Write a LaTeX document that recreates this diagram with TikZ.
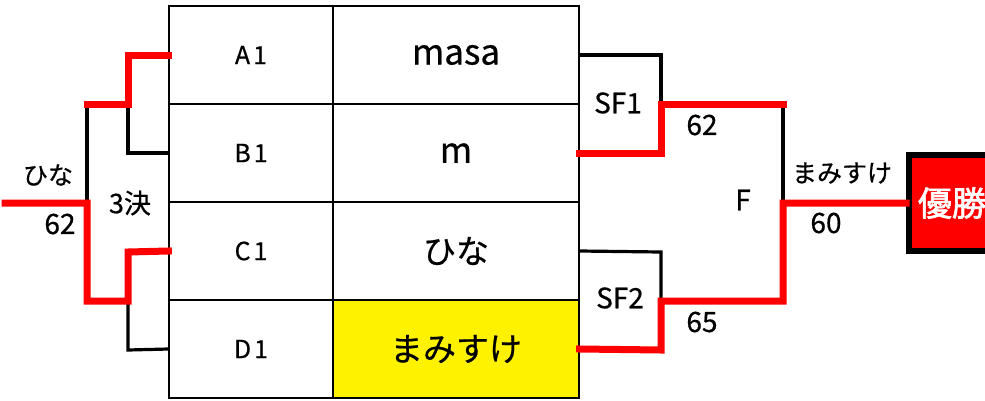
\documentclass[tikz,border=0pt]{standalone}
\usepackage{fontspec}
\setmainfont{Noto Sans CJK JP}[FakeBold=0.6]
\newfontfamily\jpbold{Noto Sans CJK JP}[FakeBold=2]
\newfontfamily\idfont{Noto Sans CJK JP}[FakeBold=0.6, LetterSpace=12]
\tikzset{
  cell/.style={draw=black, line width=1.4pt, minimum height=98pt, inner sep=0pt, anchor=center},
  idcell/.style={cell, minimum width=164pt, font=\idfont\fontsize{25}{27}\selectfont},
  namecell/.style={cell, minimum width=246pt, font=\fontsize{33}{35}\selectfont},
  lbl/.style={inner sep=0pt, font=\fontsize{25}{27}\selectfont},
  nlbl/.style={inner sep=0pt, font=\fontsize{28}{30}\selectfont},
  win/.style={line width=7pt, red, line cap=rect, line join=miter},
  lose/.style={line width=3.2pt, black, line join=miter},
}
\begin{document}
\begin{tikzpicture}[x=1pt, y=-1pt]
\useasboundingbox (0,0) rectangle (985,400);
\clip (0,0) rectangle (985,400);
% table
\node[idcell] (A1) at (251,55) {A1};
\node[idcell] (B1) at (251,153) {B1};
\node[idcell] (C1) at (251,251) {C1};
\node[idcell] (D1) at (251,349) {D1};
\node[namecell, font=\fontsize{35}{37}\selectfont] (M1) at (456,55) {masa};
\node[namecell, font=\fontsize{35}{37}\selectfont] (M2) at (456,153) {m};
\node[namecell] (M3) at (456,251) {ひな};
\node[namecell, fill=yellow] (M4) at (456,349) {まみすけ};
% winner box
\node[draw=black, fill=red, line width=6pt, minimum width=86pt, minimum height=96pt, anchor=west, inner sep=0pt,
      text=white, font=\jpbold\fontsize{34}{36}\selectfont] (W) at (906,203) {優勝};
% coordinates
\coordinate (la) at (128,104);
\coordinate (lb) at (87,104);
\coordinate (lc) at (87,203);
\coordinate (ld) at (128,301);
\coordinate (le) at (87,301);
\coordinate (start) at (5,203);
\coordinate (ra) at (661,104);
\coordinate (rb) at (783,104);
\coordinate (rc) at (783,203);
\coordinate (rd) at (661,301);
\coordinate (re) at (783,301);
% losing lines
\draw[lose] (la) -- (128,153) -- (B1.west);
\draw[lose] (lb) -- (lc);
\draw[lose] (ld) -- (128,350) -- (D1.west);
\draw[lose] (M1.east |- A1.west) -- (661,55) -- (ra);
\draw[lose] (rb) -- (rc);
\draw[lose] (M3.east |- C1.west) -- (661,252) -- (rd);
% winning lines
\draw[win] (A1.west) -- (128,55) -- (la) -- (lb);
\draw[win] (start) -- (lc) -- (le) -- (ld) -- (128,252) -- (C1.west);
\draw[win] (M2.east) -- (661,153) -- (ra) -- (rb);
\draw[win] (W.west) -- (rc) -- (re) -- (rd) -- (661,350) -- (M4.east);
% labels
\node[lbl] (l1) at (48,175) {ひな};
\node[nlbl] (l2) at (60,224) {62};
\node[lbl, font=\fontsize{27}{29}\selectfont] (l3) at (130,203) {3決};
\node[nlbl] (sf1) at (618,103) {SF1};
\node[nlbl] (sf2) at (620,298) {SF2};
\node[nlbl] (s1) at (702,125) {62};
\node[nlbl] (s2) at (702,322) {65};
\node[nlbl] (f) at (743,200) {F};
\node[lbl] (wn) at (842,173) {まみすけ};
\node[nlbl] (ws) at (826,223) {60};
\end{tikzpicture}
\end{document}
